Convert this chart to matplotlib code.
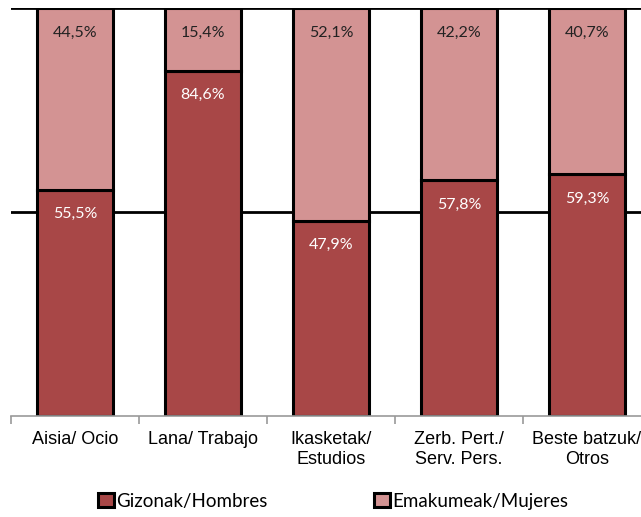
import matplotlib.pyplot as plt
import numpy as np

# Datos (porcentajes)
categorias = ['Aisia/ Ocio', 'Lana/ Trabajo', 'Ikasketak/\nEstudios',
              'Zerb. Pert./\nServ. Pers.', 'Beste batzuk/\nOtros']
hombres = [55.5, 84.6, 47.9, 57.8, 59.3]
mujeres = [44.5, 15.4, 52.1, 42.2, 40.7]
series = ['Gizonak/Hombres', 'Emakumeak/Mujeres']

COL_H = '#A84747'
COL_M = '#D39393'

fig = plt.figure(figsize=(6.41, 5.17), dpi=100)
ax = fig.add_axes([11 / 641, 101 / 517, 640 / 641, 408 / 517])

x = np.arange(len(categorias))
ancho = 0.6

# lineas de rejilla
for y in (50, 100):
    ax.axhline(y, color='black', lw=2, zorder=1)

b1 = ax.bar(x, hombres, ancho, color=COL_H, edgecolor='black', lw=2.2,
            label=series[0], zorder=2)
b2 = ax.bar(x, mujeres, ancho, bottom=hombres, color=COL_M, edgecolor='black',
            lw=2.2, label=series[1], zorder=2)

for i in range(len(x)):
    ax.text(x[i], hombres[i] - 6.0, f'{hombres[i]:.1f}%'.replace('.', ','),
            ha='center', va='center', color='white', fontsize=11.5,
            family='Lato', zorder=3)
    ax.text(x[i], 100 - 6.0, f'{mujeres[i]:.1f}%'.replace('.', ','),
            ha='center', va='center', color='#222222', fontsize=11.5,
            family='Lato', zorder=3)

ax.set_xlim(-0.5, len(x) - 0.5)
ax.set_ylim(0, 100)
ax.set_yticks([])
for s in ('top', 'right', 'left'):
    ax.spines[s].set_visible(False)
ax.spines['bottom'].set_color('#999999')
ax.spines['bottom'].set_linewidth(1.2)

ax.set_xticks(np.arange(-0.5, len(x), 1), minor=False)
ax.set_xticklabels([])
ax.tick_params(axis='x', which='major', length=6, color='#999999', width=1.2)
ax.set_xticks(x, minor=True)
ax.set_xticklabels(categorias, minor=True, family='Liberation Sans',
                   fontsize=13, linespacing=1.2)
ax.tick_params(axis='x', which='minor', length=0, pad=11)

fig.legend(handles=[b1, b2], loc='center', bbox_to_anchor=(333 / 641, 16 / 517),
           ncol=2, frameon=False, prop={'family': 'Lato', 'size': 13.5},
           handlelength=0.85, handleheight=0.85, handletextpad=0.1,
           columnspacing=5.7)

fig.savefig('out.png', dpi=100)
